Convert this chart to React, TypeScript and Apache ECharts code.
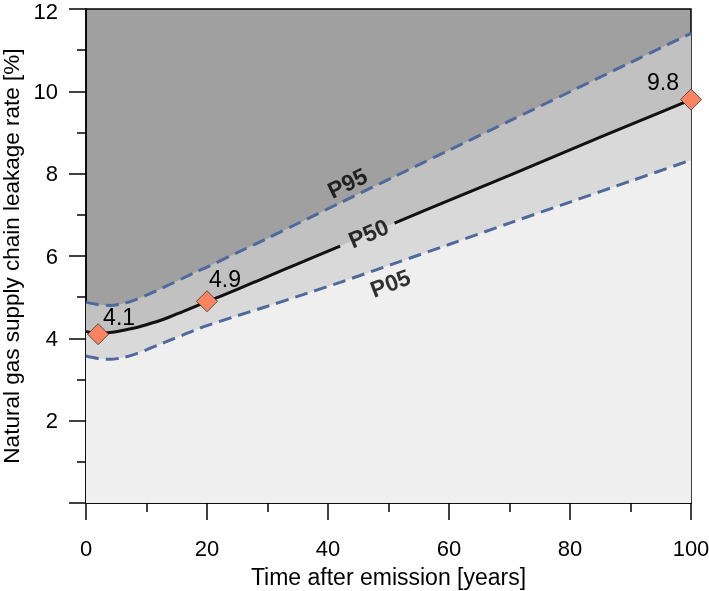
import React, { useEffect, useRef } from "react";
import * as echarts from "echarts";

const years = [0, 2, 4, 6, 8, 10, 12, 14, 16, 18, 20, 25, 30, 35, 42, 51, 60, 70, 80, 90, 100];
const p95 = [4.88, 4.82, 4.8, 4.84, 4.93, 5.05, 5.18, 5.32, 5.46, 5.6, 5.73, 6.08, 6.43, 6.79, 7.29, 7.93, 8.57, 9.28, 9.99, 10.7, 11.41];
const p50 = [4.17, 4.12, 4.14, 4.19, 4.25, 4.33, 4.42, 4.53, 4.65, 4.77, 4.89, 5.19, 5.5, 5.81, 6.24, 6.8, 7.35, 7.96, 8.58, 9.19, 9.8];
const p05 = [3.57, 3.51, 3.49, 3.53, 3.61, 3.72, 3.84, 3.96, 4.08, 4.2, 4.31, 4.55, 4.78, 5.02, 5.36, 5.82, 6.28, 6.8, 7.31, 7.82, 8.33];

const markerYears = [2, 20, 100];
const markerValues = [4.1, 4.9, 9.8];
const markerLabels = ["4.1", "4.9", "9.8"];
const markerLabelOffsets = [[21, -17], [18, -22], [-28, -18]];

// curve name labels, placed in data coordinates
const curveNames = ["P95", "P50", "P05"];
const curveNameX = [43.2, 46.7, 50.3];
const curveNameY = [7.77, 6.55, 5.34];
const curveNameRotate = [26, 23, 21];

// gap in the P50 line where its label sits
const p50GapStart = 42;
const p50GapEnd = 51;

const xTicks = { min: 0, max: 100, interval: 20 };
const yTicks = { min: 0, max: 12, interval: 2 };

const FONT = "Liberation Sans";

export default function App() {
  const ref = useRef<HTMLDivElement>(null);
  useEffect(() => {
    if (!ref.current) return;
    const chart = echarts.init(ref.current, null, { renderer: "svg" });
    const pts = (ys: number[]) => years.map((x, i) => [x, ys[i]]);
    const p50a = years.map((x, i) => [x, p50[i]]).filter((d) => d[0] <= p50GapStart);
    const p50b = years.map((x, i) => [x, p50[i]]).filter((d) => d[0] >= p50GapEnd);
    const dash = { color: "#50699a", width: 3, type: [13, 7] as any };
    const axisLine = { lineStyle: { color: "#000", width: 1.5 } };
    const area = (name: string, ys: number[], color: string) => ({
      name,
      type: "line",
      data: pts(ys),
      smooth: 0.3,
      symbol: "none",
      lineStyle: { width: 0 },
      areaStyle: { color, opacity: 1, origin: "start" },
      silent: true,
      z: 1,
    });
    chart.setOption({
      animation: false,
      textStyle: { fontFamily: FONT },
      grid: {
        left: 86,
        right: 18,
        top: 9,
        bottom: 88,
        containLabel: false,
        outerBoundsMode: "none",
        show: true,
        backgroundColor: "#a0a0a0",
        borderColor: "#000",
        borderWidth: 1.5,
        z: 0,
      },
      xAxis: {
        type: "value",
        ...xTicks,
        name: "Time after emission [years]",
        nameLocation: "middle",
        nameGap: 62,
        nameTextStyle: { fontSize: 23, color: "#000", fontFamily: FONT },
        axisLine,
        axisTick: { show: true, length: 17, lineStyle: { color: "#000", width: 1.5 } },
        minorTick: { show: true, splitNumber: 2, length: 9, lineStyle: { color: "#000", width: 1.5 } },
        axisLabel: { fontSize: 22, color: "#000", margin: 34, fontFamily: FONT },
        splitLine: { show: false },
      },
      yAxis: {
        type: "value",
        ...yTicks,
        name: "Natural gas supply chain leakage rate [%]",
        nameLocation: "middle",
        nameGap: 50,
        nameTextStyle: { fontSize: 22.5, color: "#000", fontFamily: FONT },
        axisLine,
        axisTick: { show: true, length: 17, lineStyle: { color: "#000", width: 1.5 } },
        minorTick: { show: true, splitNumber: 2, length: 9, lineStyle: { color: "#000", width: 1.5 } },
        axisLabel: {
          fontSize: 22,
          color: "#000",
          margin: 28,
          fontFamily: FONT,
          formatter: (v: number) => (v === 0 ? "" : v === 12 ? "{top|12}" : String(v)),
          rich: { top: { fontSize: 22, fontFamily: FONT, color: "#000", padding: [4, 0, 0, 0] } },
        },
        splitLine: { show: false },
      },
      series: [
        area("bandP95", p95, "#c1c1c1"),
        area("bandP50", p50, "#d9d9d9"),
        area("bandP05", p05, "#efefef"),
        { name: "P95", type: "line", data: pts(p95), smooth: 0.3, symbol: "none", lineStyle: dash, z: 3, silent: true },
        { name: "P05", type: "line", data: pts(p05), smooth: 0.3, symbol: "none", lineStyle: dash, z: 3, silent: true },
        { name: "P50a", type: "line", data: p50a, smooth: 0.3, symbol: "none", lineStyle: { color: "#111", width: 3 }, z: 3, silent: true },
        { name: "P50b", type: "line", data: p50b, smooth: 0.3, symbol: "none", lineStyle: { color: "#111", width: 3 }, z: 3, silent: true },
        {
          name: "curveNames",
          type: "scatter",
          symbolSize: 1,
          itemStyle: { color: "transparent" },
          silent: true,
          z: 4,
          data: curveNames.map((n, i) => ({
            value: [curveNameX[i], curveNameY[i]],
            label: {
              show: true,
              position: "inside",
              formatter: n,
              rotate: curveNameRotate[i],
              fontSize: 23,
              fontWeight: "bold",
              color: "#000",
              fontFamily: FONT,
            },
          })),
        },
        {
          name: "markers",
          type: "scatter",
          symbol: "diamond",
          symbolSize: 21,
          clip: false,
          z: 5,
          itemStyle: { color: "#fa8462", borderColor: "#333", borderWidth: 0.8, opacity: 1 },
          data: markerYears.map((x, i) => ({
            value: [x, markerValues[i]],
            label: {
              show: true,
              position: "inside",
              offset: markerLabelOffsets[i],
              formatter: markerLabels[i],
              fontSize: 23,
              color: "#000",
              fontFamily: FONT,
            },
          })),
        },
      ],
    });
    return () => chart.dispose();
  }, []);
  return <div ref={ref} style={{ position: "fixed", left: 0, top: 0, width: 709, height: 591 }} />;
}
